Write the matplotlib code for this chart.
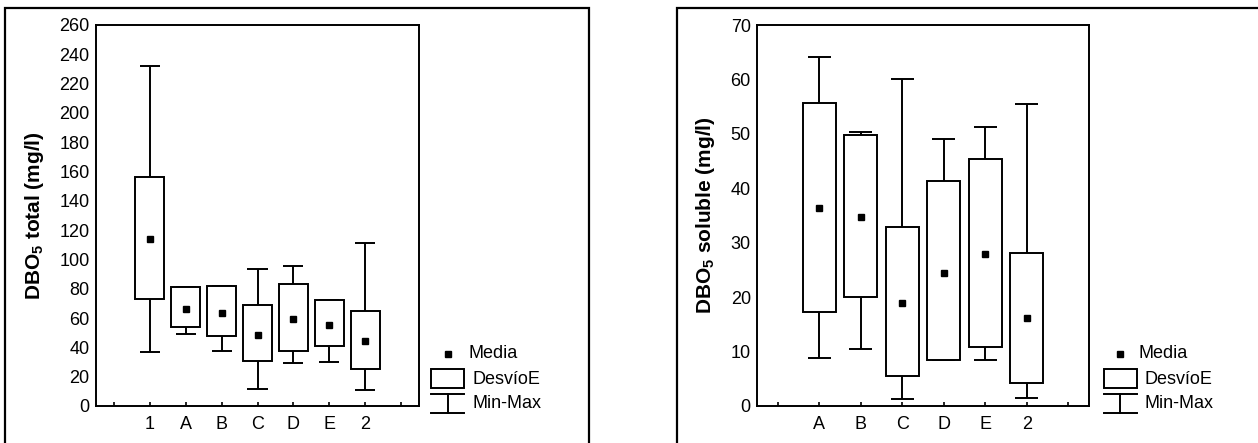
import matplotlib
matplotlib.use("Agg")
import matplotlib.pyplot as plt
from matplotlib.patches import Rectangle
from matplotlib.lines import Line2D

plt.rcParams['font.family'] = ['Liberation Sans', 'DejaVu Sans']
plt.rcParams['mathtext.fontset'] = 'custom'
plt.rcParams['mathtext.bf'] = 'Liberation Sans:bold'
plt.rcParams['mathtext.rm'] = 'Liberation Sans:bold'
plt.rcParams['mathtext.default'] = 'bf'

# ---- Data: left chart (DBO5 total) ----
cat_total = ['1', 'A', 'B', 'C', 'D', 'E', '2']
mean_total = [114.3, 66.5, 63.7, 48.7, 59.7, 55.6, 44.6]
sd_lo_total = [72.9, 53.7, 47.6, 30.7, 37.8, 41.2, 25.0]
sd_hi_total = [156.6, 81.0, 82.0, 69.0, 83.3, 72.4, 65.1]
min_total = [36.9, 49.2, 37.8, 11.8, 29.6, 30.1, 11.2]
max_total = [232.2, 81.0, 82.0, 93.6, 95.4, 72.4, 111.1]

# ---- Data: right chart (DBO5 soluble) ----
cat_sol = ['A', 'B', 'C', 'D', 'E', '2']
mean_sol = [36.3, 34.8, 19.0, 24.5, 27.9, 16.1]
sd_lo_sol = [17.2, 20.0, 5.5, 8.4, 10.8, 4.2]
sd_hi_sol = [55.7, 49.8, 32.9, 41.3, 45.4, 28.1]
min_sol = [8.9, 10.5, 1.2, 8.4, 8.4, 1.5]
max_sol = [64.2, 50.3, 60.0, 49.0, 51.3, 55.4]

legend_labels = ['Media', 'DesvíoE', 'Min-Max']

W, H = 1258, 443
fig = plt.figure(figsize=(W / 100, H / 100), dpi=100)


def fx(px):
    return px / W


def fy(py):
    return 1 - py / H


LW = 1.4
FS = 13


def draw(ax, cats, means, lo, hi, mn, mx, ymax, ystep, ylabel):
    n = len(cats)
    xs = list(range(1, n + 1))
    for x, a, b, c, d, m in zip(xs, lo, hi, mn, mx, means):
        ax.vlines(x, b, d, color='black', lw=LW, zorder=2)
        ax.vlines(x, c, a, color='black', lw=LW, zorder=2)
        ax.hlines([c, d], x - 0.28, x + 0.28, color='black', lw=LW, zorder=2)
    ax.bar(xs, [b - a for a, b in zip(lo, hi)], bottom=lo, width=0.8,
           facecolor='white', edgecolor='black', linewidth=LW, zorder=3)
    ax.plot(xs, means, linestyle='none', marker='s', markersize=4.8,
            color='black', zorder=4)
    ax.set_xlim(-0.5, n + 1.5)
    ax.set_ylim(0, ymax)
    ax.set_xticks(range(0, n + 2))
    ax.set_xticklabels([''] + cats + [''])
    ax.set_yticks(range(0, ymax + 1, ystep))
    ax.tick_params(axis='x', direction='in', length=3, width=1.2,
                   labelsize=FS, pad=7)
    ax.tick_params(axis='y', length=0, labelsize=FS, pad=4.5)
    for s in ax.spines.values():
        s.set_linewidth(LW)
    ax.set_ylabel(ylabel, fontsize=15, fontweight='bold', labelpad=10)


ax1 = fig.add_axes([fx(96), fy(406), fx(419) - fx(96), fy(25) - fy(406)])
draw(ax1, cat_total, mean_total, sd_lo_total, sd_hi_total, min_total,
     max_total, 260, 20, 'DBO$_5$ total (mg/l)')

ax2 = fig.add_axes([fx(757), fy(406), fx(1089) - fx(757), fy(25) - fy(406)])
draw(ax2, cat_sol, mean_sol, sd_lo_sol, sd_hi_sol, min_sol, max_sol,
     70, 10, 'DBO$_5$ soluble (mg/l)')

# outer frames
fig.add_artist(Rectangle((fx(5), fy(460)), fx(589) - fx(5), fy(8) - fy(460),
                         fill=False, edgecolor='black', lw=1.6,
                         transform=fig.transFigure))
fig.add_artist(Rectangle((fx(677), fy(460)), fx(1300) - fx(677),
                         fy(8) - fy(460), fill=False, edgecolor='black',
                         lw=1.6, transform=fig.transFigure))


def legend(cx, tx):
    # mean marker
    fig.add_artist(Line2D([fx(cx)], [fy(354)], marker='s', markersize=4.5,
                          color='black', linestyle='none',
                          transform=fig.transFigure))
    # box
    fig.add_artist(Rectangle((fx(cx - 16.5), fy(388)), fx(33), fy(369) - fy(388),
                             fill=False, edgecolor='black', lw=LW,
                             transform=fig.transFigure))
    # min-max
    fig.add_artist(Line2D([fx(cx - 16.5), fx(cx + 16.5)], [fy(394), fy(394)],
                          color='black', lw=LW, transform=fig.transFigure))
    fig.add_artist(Line2D([fx(cx - 16.5), fx(cx + 16.5)], [fy(413), fy(413)],
                          color='black', lw=LW, transform=fig.transFigure))
    fig.add_artist(Line2D([fx(cx), fx(cx)], [fy(394), fy(413)],
                          color='black', lw=LW, transform=fig.transFigure))
    fig.text(fx(tx - 5), fy(354), legend_labels[0], fontsize=FS, va='center')
    fig.text(fx(tx), fy(379), legend_labels[1], fontsize=FS, va='center')
    fig.text(fx(tx), fy(404), legend_labels[2], fontsize=FS, va='center')


legend(448, 473)
legend(1120, 1144)

fig.savefig('out.png', dpi=100)
